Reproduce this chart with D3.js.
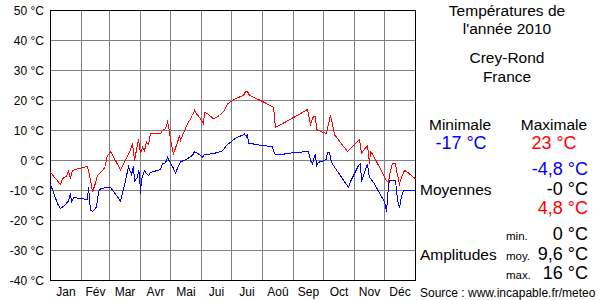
<!DOCTYPE html>
<html>
<head>
<meta charset="utf-8">
<script src="https://cdn.jsdelivr.net/npm/d3@7"></script>
<style>
    body { margin: 0; background: #fff; }
    svg { display: block; font-family: "Liberation Sans", Arial, sans-serif; }
</style>
</head>
<body>
<svg id="chart" width="600" height="300"></svg>
<script>
// month labels (French, as in the source)
const months = ["Jan", "Fév", "Mar", "Avr", "Mai", "Jui", "Jui", "Aoû", "Sep", "Oct", "Nov", "Déc"];
const yTicks = [-40, -30, -20, -10, 0, 10, 20, 30, 40, 50];

// daily maxima, [day of year (0 = 1 Jan), °C]
const maxTemps = [
    [0, -4], [10, -8], [12, -6], [16, -5.3], [18, -3.5], [20, -6], [22, -3.3], [28, -2.7],
    [37, -2], [40, -6.5], [42, -10.5], [43, -9.5], [45, -7.5], [47, -5], [52, -3.3], [55, -2],
    [56, 1], [58, 2], [60, 3], [70, -3.1], [80, 3.5], [82, 5.8], [84, 0], [88, 7], [90, 2.4],
    [92, 4.4], [94, 3.3], [96, 6.1], [98, 5.3], [100, 8.9], [110, 8.9], [112, 10], [115, 10.6],
    [117, 12.8], [118, 11.7], [120, 7], [122, 3.5], [123, 2.2], [127, 6.1], [129, 8.3], [130, 6.7],
    [132, 8.3], [137, 12.2], [142, 15], [144, 16.7], [146, 15.6], [150, 13.9], [153, 12.2],
    [154, 16.1], [157, 15.6], [163, 13.9], [169, 15], [174, 16.7], [177, 18.9], [182, 20],
    [185, 20.6], [193, 21.7], [195, 23], [197, 23], [199, 21.7], [210, 20], [220, 18.3],
    [223, 17.8], [225, 11], [245, 14.7], [257, 17], [260, 12], [263, 14.8], [265, 14.8],
    [266, 10.3], [274, 9.2], [276, 9], [278, 12.2], [280, 15], [282, 12.2], [284, 8.6],
    [297, 3], [303, 5], [309, 7], [311, 2.5], [317, 5], [319, -1], [320, 2.8], [322, 2.2],
    [336, -6.7], [338, -7.2], [340, -3.3], [342, -1.1], [345, -1.1], [346, -3.3], [349, -7.8],
    [351, -5.6], [354, -3.3], [358, -4.2], [365, -6.1]
];

// daily minima
const minTemps = [
    [0, -8], [3, -10.6], [7, -14.4], [10, -16], [14, -15], [18, -13.5], [20, -11], [21, -14],
    [23, -12.3], [28, -12.6], [37, -13], [38, -9], [40, -16.5], [42, -17], [43, -16.7],
    [46, -15.5], [48, -10.6], [50, -9.4], [56, -9], [60, -9], [70, -13.5], [74, -8.3], [78, -2],
    [81, -4.7], [83, -2], [84, -6.8], [87, -5.7], [88, -3.5], [89, -4.3], [90, -11.2], [91, -6.3],
    [94, -3.5], [98, -5], [100, -4], [110, -3], [112, -1], [115, -0.8], [117, 1], [118, 0.3],
    [122, -2], [125, -4.1], [130, -0.5], [137, 0.6], [142, 1.7], [144, 3], [148, 2.2], [152, 1.1],
    [154, 2.1], [162, 2.2], [172, 3.2], [176, 5], [180, 6.1], [185, 7.4], [193, 8.6], [194, 8.9],
    [196, 7.8], [197, 8.9], [198, 5.8], [208, 5.2], [217, 4.8], [222, 4.5], [223, 3], [225, 2],
    [231, 2], [242, 2.6], [258, 3], [260, 0], [262, -1.2], [264, 1.6], [265, 2], [266, -1.8],
    [268, -0.6], [274, 0], [276, 0.5], [277, 2.8], [279, 2.8], [280, 0.8], [282, -1.2],
    [298, -9], [300, -7], [308, -1.7], [310, -1], [311, -7], [314, -4], [317, -1.2], [319, -5.8],
    [320, -6], [323, -7.3], [334, -13.8], [336, -17], [338, -8.3], [339, -6.7], [345, -6.7],
    [347, -13], [349, -15.8], [351, -12], [353, -10], [365, -10]
];

// summary block on the right
const extremes = { min: "-17 °C", max: "23 °C" };
const means = ["-4,8 °C", "-0 °C", "4,8 °C"];
const amplitudeLabels = ["min.", "moy.", "max."];
const amplitudes = ["0 °C", "9,6 °C", "16 °C"];

const svg = d3.select('#chart');
const start = new Date(Date.UTC(2010, 0, 1));
const end = new Date(Date.UTC(2011, 0, 1));
const toDate = day => d3.utcDay.offset(start, day);

const x = d3.scaleUtc().domain([start, end]).range([50.5, 415.5]);
const y = d3.scaleLinear().domain([-40, 50]).range([280.5, 10.5]);

const monthStarts = d3.utcMonth.range(start, end);

// grid
svg.append('g')
    .selectAll('line')
    .data(yTicks)
    .join('line')
    .attr('x1', x.range()[0]).attr('x2', x.range()[1])
    .attr('y1', d => y(d)).attr('y2', d => y(d))
    .attr('stroke', '#808080')
    .attr('shape-rendering', 'crispEdges');

svg.append('g')
    .selectAll('line')
    .data(monthStarts)
    .join('line')
    .attr('x1', d => x(d)).attr('x2', d => x(d))
    .attr('y1', y.range()[0]).attr('y2', y.range()[1])
    .attr('stroke', '#808080')
    .attr('shape-rendering', 'crispEdges');

// frame
svg.append('rect')
    .attr('x', x.range()[0]).attr('y', y.range()[1])
    .attr('width', x.range()[1] - x.range()[0])
    .attr('height', y.range()[0] - y.range()[1])
    .attr('fill', 'none')
    .attr('stroke', '#000')
    .attr('shape-rendering', 'crispEdges');

// y labels
const yAxis = d3.axisLeft(y)
    .tickValues(yTicks)
    .tickSize(0)
    .tickPadding(6)
    .tickFormat(d => d + ' °C');

svg.append('g')
    .attr('transform', 'translate(50,0)')
    .call(yAxis)
    .call(g => g.select('.domain').remove())
    .selectAll('text')
    .attr('font-size', 12)
    .attr('font-family', '"Liberation Sans", Arial, sans-serif')
    .attr('fill', '#000');

// month labels in the middle of each month
svg.append('g')
    .selectAll('text')
    .data(monthStarts)
    .join('text')
    .attr('x', d => (x(d) + x(d3.utcMonth.offset(d, 1))) / 2)
    .attr('y', 296)
    .attr('text-anchor', 'middle')
    .attr('font-size', 12)
    .text((d, i) => months[i]);

// temperature lines
const line = d3.line()
    .x(d => x(toDate(d[0])))
    .y(d => y(d[1]));

svg.append('path')
    .datum(maxTemps)
    .attr('d', line)
    .attr('fill', 'none')
    .attr('stroke', '#ff0000')
    .attr('stroke-width', 1)
    .attr('shape-rendering', 'crispEdges');

svg.append('path')
    .datum(minTemps)
    .attr('d', line)
    .attr('fill', 'none')
    .attr('stroke', '#0000ff')
    .attr('stroke-width', 1)
    .attr('shape-rendering', 'crispEdges');

// right panel
function label(txt, px, py, size, anchor, color) {
    svg.append('text')
        .attr('x', px).attr('y', py)
        .attr('font-size', size)
        .attr('text-anchor', anchor)
        .attr('fill', color || '#000')
        .text(txt);
}

label('Températures de', 507, 16, 15.5, 'middle');
label("l'année 2010", 507, 34, 15.5, 'middle');
label('Crey-Rond', 507, 63, 15.5, 'middle');
label('France', 507, 82, 15.5, 'middle');

label('Minimale', 460, 130, 15.5, 'middle');
label('Maximale', 554, 130, 15.5, 'middle');
label(extremes.min, 461, 149, 18, 'middle', '#0000ff');
label(extremes.max, 554, 149, 18, 'middle', '#ff0000');

label('Moyennes', 420, 195, 15.5, 'start');
label(means[0], 588, 175, 18, 'end', '#0000ff');
label(means[1], 588, 195, 18, 'end');
label(means[2], 588, 214, 18, 'end', '#ff0000');

label('Amplitudes', 420, 260, 15.5, 'start');
amplitudes.forEach((a, i) => {
    label(amplitudeLabels[i], 506, 240 + i * 19.5, 11.5, 'start');
    label(a, 588, 240 + i * 19.5, 18, 'end');
});

label('Source : www.incapable.fr/meteo', 420, 297, 12, 'start');
</script>
</body>
</html>
